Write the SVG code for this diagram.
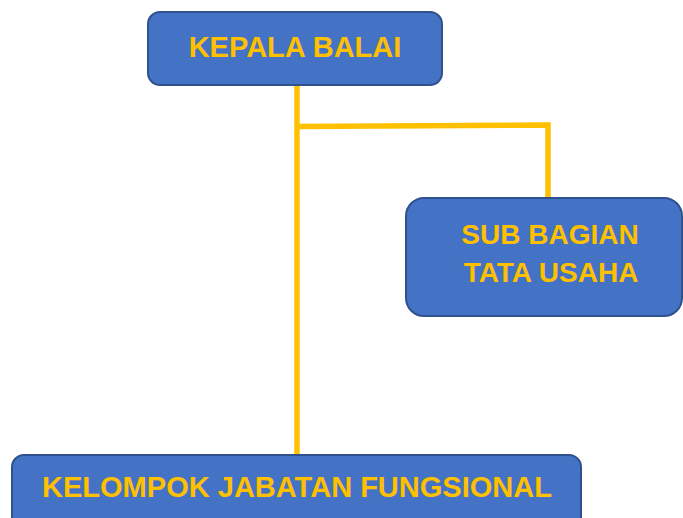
<svg xmlns="http://www.w3.org/2000/svg" width="683" height="518" viewBox="0 0 683 518">
<style>
.box{fill:#4472C4;stroke:#2F528F;stroke-width:2}
.t{fill:#FFC000;font-family:"Liberation Sans",Arial,sans-serif;font-weight:bold;text-anchor:middle}
.c{fill:none;stroke:#FFC000;stroke-width:5.5}
</style>
<rect width="683" height="518" fill="#fff"/>
<g id="connectors">
<path class="c" d="M297 85 V455"/>
<path class="c" d="M297 126.5 L546 125 L548 125 V198"/>
</g>
<g id="kepala">
<rect class="box" x="148" y="12" width="294" height="73" rx="12"/>
<text class="t" x="295" y="57" font-size="29">KEPALA BALAI</text>
</g>
<g id="subbagian">
<rect class="box" x="406" y="198" width="276" height="118" rx="18"/>
<text class="t" x="550" y="244" font-size="28">SUB BAGIAN</text>
<text class="t" x="551" y="282" font-size="28">TATA USAHA</text>
</g>
<g id="kelompok">
<rect class="box" x="12" y="455" width="569" height="75" rx="12"/>
<text class="t" x="297" y="497" font-size="29" textLength="510" lengthAdjust="spacingAndGlyphs">KELOMPOK JABATAN FUNGSIONAL</text>
</g>
</svg>
